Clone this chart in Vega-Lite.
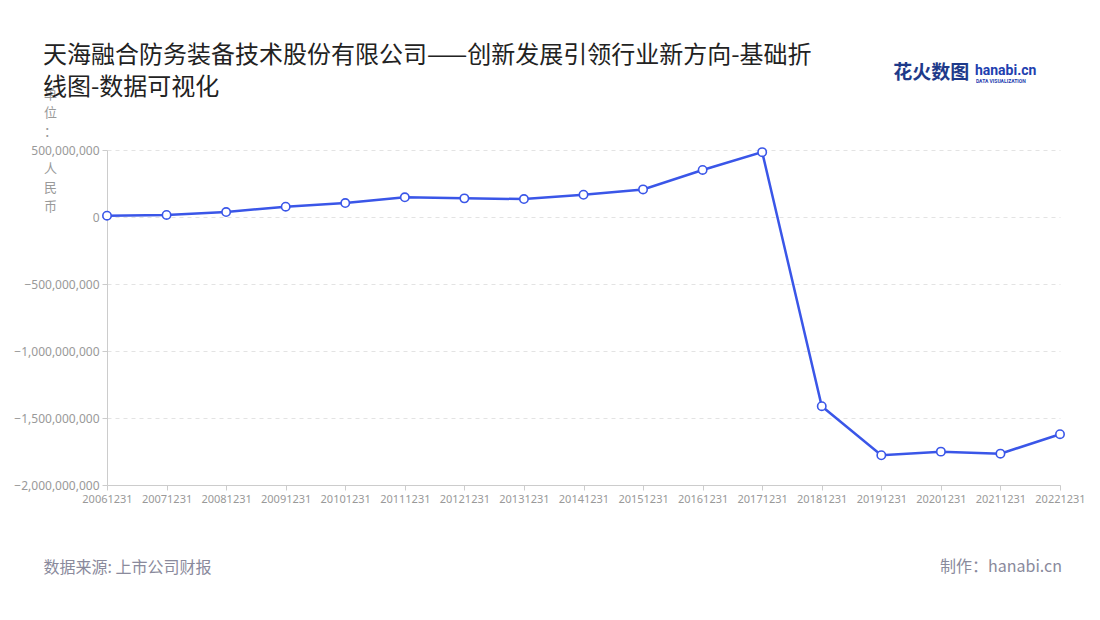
{
  "$schema": "https://vega.github.io/schema/vega-lite/v6.json",
  "width": 953,
  "height": 335,
  "autosize": {"type": "none"},
  "padding": {"left": 107, "top": 150, "right": 40, "bottom": 135},
  "background": "white",
  "config": {
    "font": "Noto Sans CJK SC",
    "view": {"stroke": null}
  },
  "title": {
    "text": ["天海融合防务装备技术股份有限公司——创新发展引领行业新方向-基础折", "线图-数据可视化"],
    "anchor": "start",
    "frame": "group",
    "dx": -64,
    "dy": 89,
    "offset": 53,
    "fontSize": 24,
    "fontWeight": "normal",
    "lineHeight": 32,
    "color": "#222222",
    "font": "Noto Sans CJK SC"
  },
  "data": {
    "values": [
      {"date": "20061231", "value": 10000000},
      {"date": "20071231", "value": 15000000},
      {"date": "20081231", "value": 37000000},
      {"date": "20091231", "value": 77000000},
      {"date": "20101231", "value": 104000000},
      {"date": "20111231", "value": 147000000},
      {"date": "20121231", "value": 139000000},
      {"date": "20131231", "value": 134000000},
      {"date": "20141231", "value": 166000000},
      {"date": "20151231", "value": 206000000},
      {"date": "20161231", "value": 351000000},
      {"date": "20171231", "value": 484000000},
      {"date": "20181231", "value": -1412000000},
      {"date": "20191231", "value": -1778000000},
      {"date": "20201231", "value": -1751000000},
      {"date": "20211231", "value": -1766000000},
      {"date": "20221231", "value": -1621000000}
    ]
  },
  "layer": [
    {
      "mark": {
        "type": "line",
        "color": "#3a56e8",
        "strokeWidth": 2.5,
        "point": {"filled": true, "fill": "white", "stroke": "#3a56e8", "strokeWidth": 1.6, "size": 70, "opacity": 1}
      },
      "encoding": {
        "x": {
          "field": "date",
          "type": "ordinal",
          "sort": null,
          "scale": {"type": "point", "padding": 0},
          "axis": {
            "title": "数据来源: 上市公司财报",
            "titleAnchor": "start",
            "titleAlign": "left",
            "titleBaseline": "middle",
            "titleX": -64,
            "titleY": 82,
            "titleFontSize": 16,
            "titleFontWeight": "normal",
            "titleColor": "#8a8a9c",
            "labelAngle": 0,
            "labelFontSize": 11,
            "labelColor": "#999999",
            "labelFont": "Noto Sans",
            "labelPadding": 3,
            "domainColor": "#cccccc",
            "tickColor": "#cccccc",
            "tickSize": 5,
            "grid": false
          }
        },
        "y": {
          "field": "value",
          "type": "quantitative",
          "scale": {"domain": [-2000000000, 500000000], "nice": false, "zero": false},
          "axis": {
            "values": [-2000000000, -1500000000, -1000000000, -500000000, 0, 500000000],
            "format": ",.0f",
            "title": ["单", "位", "：", "\u2800", "人", "民", "币"],
            "titleAngle": 0,
            "titleX": -57,
            "titleY": -62,
            "titleAlign": "center",
            "titleBaseline": "top",
            "titleFontSize": 13,
            "titleFontWeight": "normal",
            "titleLineHeight": 18.7,
            "titleColor": "#999999",
            "labelFontSize": 12,
            "labelColor": "#999999",
            "labelFont": "Noto Sans",
            "labelPadding": 3,
            "domainColor": "#cccccc",
            "tickColor": "#cccccc",
            "tickSize": 5,
            "grid": true,
            "gridColor": "#e3e3e3",
            "gridDash": [4, 4],
            "gridWidth": 1
          }
        }
      }
    },
    {
      "data": {"values": [{"label": "制作：hanabi.cn"}]},
      "mark": {"type": "text", "align": "right", "baseline": "middle", "dx": 2, "dy": 82, "fontSize": 16, "color": "#8a8a9c", "font": "Noto Sans CJK SC"},
      "encoding": {
        "x": {"datum": "20221231"},
        "y": {"datum": -2000000000},
        "text": {"field": "label"}
      }
    },
    {
      "data": {"values": [{"label": "花火数图"}]},
      "mark": {"type": "text", "align": "left", "baseline": "middle", "dx": 12, "dy": -77, "fontSize": 19, "fontWeight": "bold", "color": "#1e3a8a", "font": "Noto Sans CJK SC"},
      "encoding": {
        "x": {"datum": "20191231"},
        "y": {"datum": 500000000},
        "text": {"field": "label"}
      }
    },
    {
      "data": {"values": [{"label": "hanabi.cn"}]},
      "mark": {"type": "text", "align": "left", "baseline": "middle", "dx": 34, "dy": -79, "fontSize": 14, "fontWeight": "bold", "color": "#1e40af", "font": "Roboto"},
      "encoding": {
        "x": {"datum": "20201231"},
        "y": {"datum": 500000000},
        "text": {"field": "label"}
      }
    },
    {
      "data": {"values": [{"label": "DATA VISUALIZATION"}]},
      "mark": {"type": "text", "align": "left", "baseline": "middle", "dx": 35, "dy": -69, "fontSize": 5, "fontWeight": "bold", "color": "#1e40af", "font": "Roboto"},
      "encoding": {
        "x": {"datum": "20201231"},
        "y": {"datum": 500000000},
        "text": {"field": "label"}
      }
    }
  ]
}
